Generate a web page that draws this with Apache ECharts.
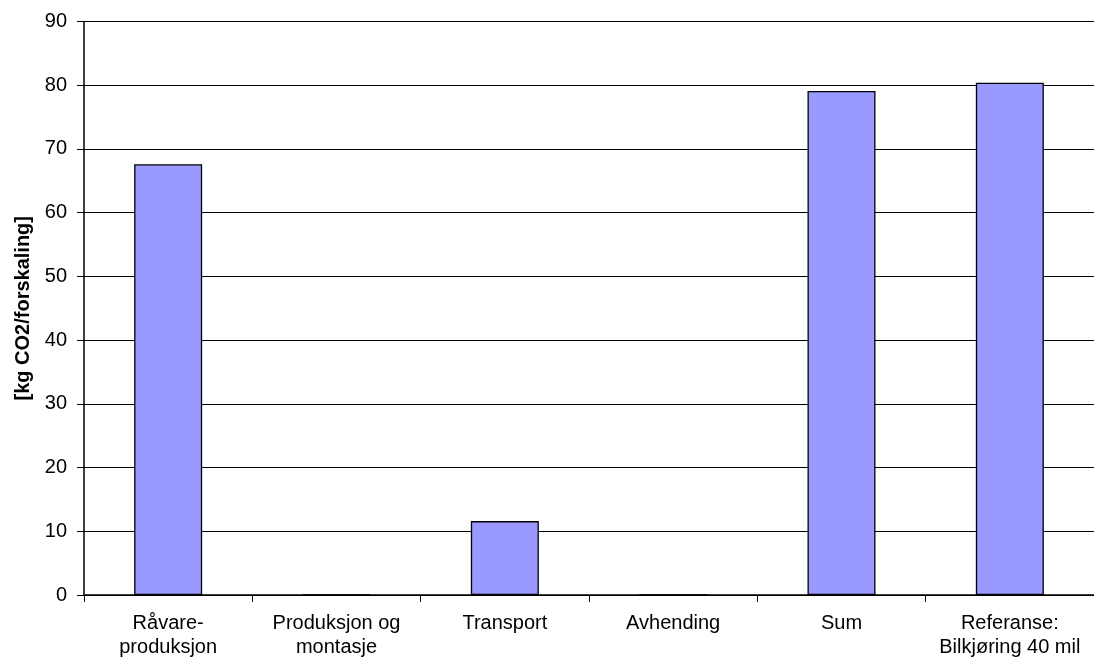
<!DOCTYPE html>
<html>
<head>
<meta charset="utf-8">
<script src="https://cdn.jsdelivr.net/npm/echarts@6/dist/echarts.min.js"></script>
<style>
  html, body { margin: 0; padding: 0; background: #fff; }
  #chart { width: 1094px; height: 662px; }
</style>
</head>
<body>
<div id="chart"></div>
<script>
// Life-cycle CO2 per formwork unit, by phase
const categories = ['Råvare-\nproduksjon', 'Produksjon og\nmontasje', 'Transport', 'Avhending', 'Sum', 'Referanse:\nBilkjøring 40 mil'];
const values = [67.6, 0, 11.6, 0, 79.1, 80.4];
const yMin = 0, yMax = 90, yStep = 10;
const yTitle = '[kg CO2/forskaling]';

const font = 'Liberation Sans, Arial, sans-serif';
const chart = echarts.init(document.getElementById('chart'), null, { renderer: 'canvas' });
chart.setOption({
  animation: false,
  backgroundColor: '#ffffff',
  grid: { left: 84, right: -5, top: 21.5, bottom: 67, containLabel: false },
  xAxis: {
    type: 'category',
    data: categories,
    axisLine: { lineStyle: { color: '#000', width: 1.5 } },
    axisTick: { show: true, length: 7, lineStyle: { color: '#000' } },
    axisLabel: { color: '#000', fontFamily: font, fontSize: 20, margin: 16, lineHeight: 24, interval: 0 },
    splitLine: { show: false }
  },
  yAxis: {
    type: 'value',
    min: yMin, max: yMax, interval: yStep,
    name: yTitle,
    nameLocation: 'middle',
    nameGap: 51,
    nameRotate: 90,
    nameTextStyle: { color: '#000', fontFamily: font, fontSize: 20, fontWeight: 'bold' },
    axisLine: { show: true, lineStyle: { color: '#000', width: 1.5 } },
    axisTick: { show: true, length: 7, lineStyle: { color: '#000' } },
    axisLabel: { color: '#000', fontFamily: font, fontSize: 20, margin: 17 },
    splitLine: { show: true, lineStyle: { color: '#000', width: 1 } }
  },
  series: [{
    type: 'bar',
    data: values,
    barWidth: 68,
    itemStyle: { color: '#9999ff', borderColor: '#000', borderWidth: 1.3 }
  }]
});
</script>
</body>
</html>
